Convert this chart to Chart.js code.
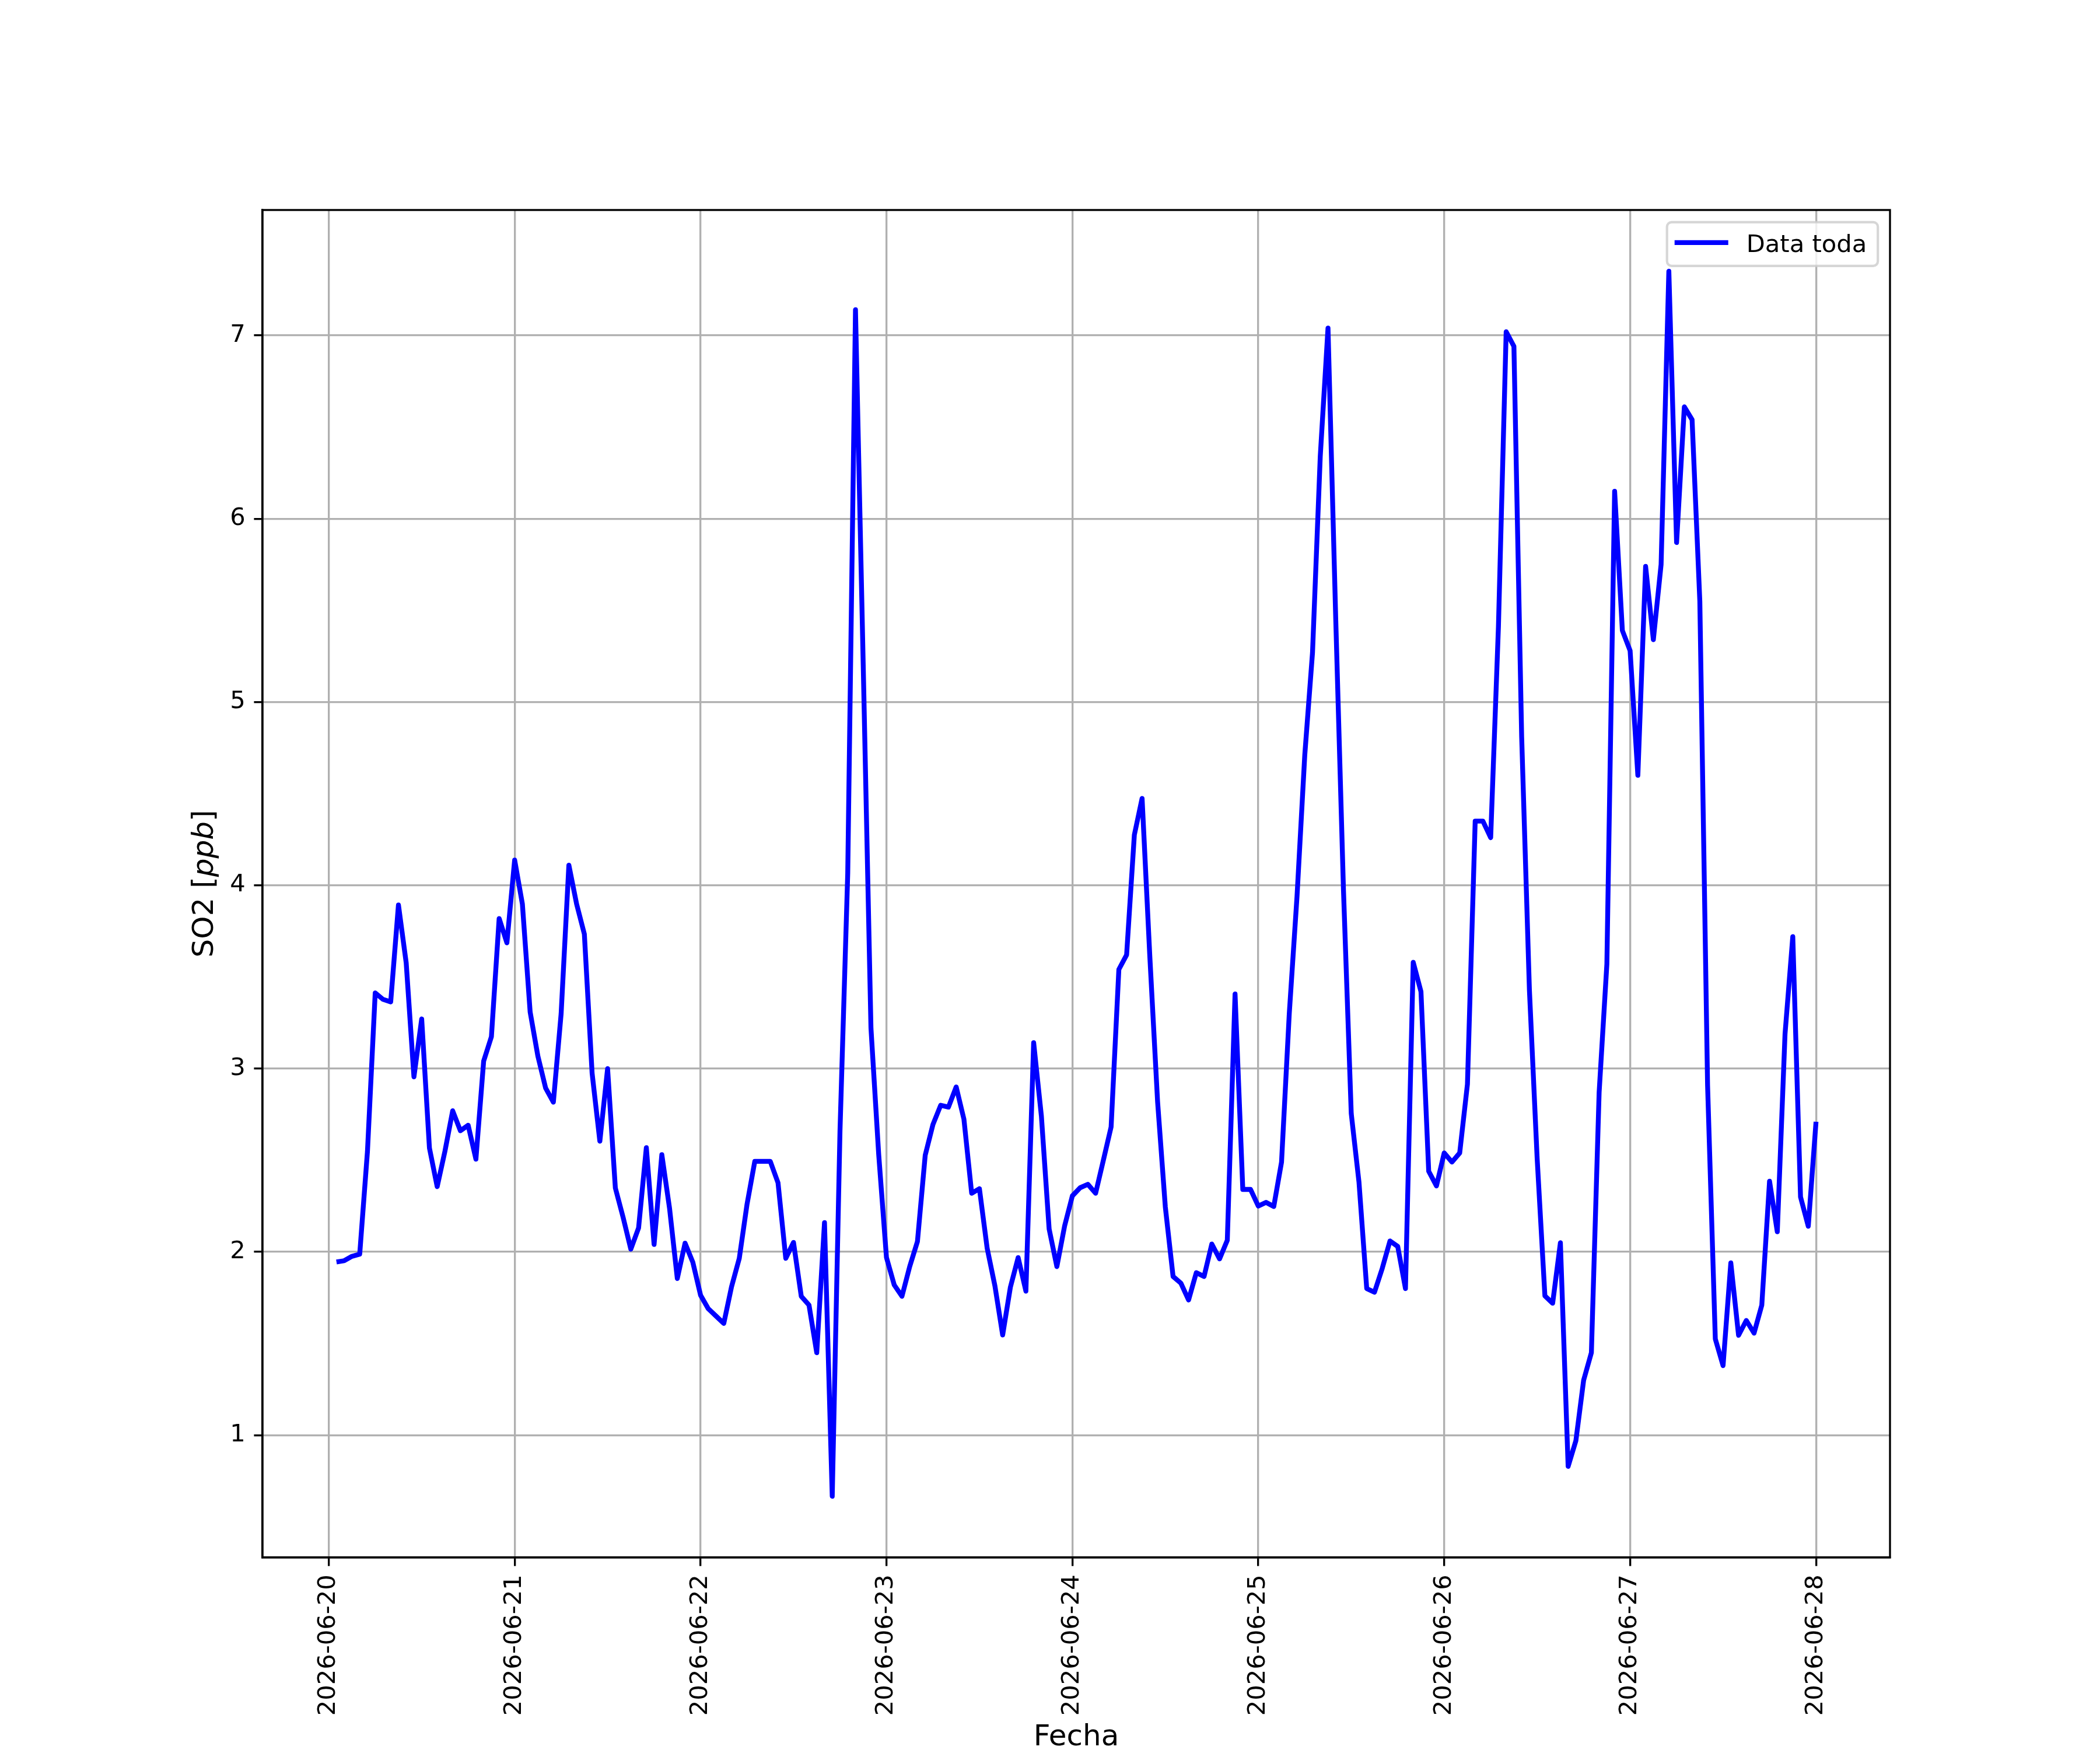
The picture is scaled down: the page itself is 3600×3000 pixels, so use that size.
<!DOCTYPE html>
<html>
<head>
<meta charset="utf-8">
<script src="https://cdn.jsdelivr.net/npm/chart.js@4.4.1/dist/chart.umd.min.js"></script>
<style>
html,body{margin:0;padding:0;background:#ffffff;}
canvas{display:block;}
</style>
</head>
<body>
<canvas id="c" width="3600" height="3000" style="width:3600px;height:3000px"></canvas>
<script>
// ---------------- data ----------------
const startDate = '2026-06-20';
const firstHour = 1;          // first hourly sample at 2026-06-20 01:00
const seriesLabel = 'Data toda';
const xAxisTitle = 'Fecha';
const yAxisTitleParts = [['SO2 [', false], ['ppb', true], [']', false]];

// hourly SO2 [ppb], 2026-06-20 01:00 ... 2026-06-28 00:00
const so2Values = [
  1.945, 1.952, 1.976, 1.988, 2.549, 3.413, 3.378, 3.364, 3.893, 3.577, 2.955, 3.271,
  2.567, 2.356, 2.549, 2.770, 2.661, 2.691, 2.506, 3.041, 3.174, 3.819, 3.686, 4.138,
  3.898, 3.309, 3.068, 2.894, 2.817, 3.299, 4.110, 3.898, 3.734, 2.975, 2.604, 3.000,
  2.349, 2.189, 2.015, 2.131, 2.569, 2.041, 2.531, 2.237, 1.855, 2.048, 1.944, 1.764,
  1.690, 1.650, 1.610, 1.810, 1.965, 2.260, 2.494, 2.494, 2.494, 2.377, 1.965, 2.052,
  1.758, 1.710, 1.450, 2.160, 0.667, 2.660, 4.065, 7.140, 5.200, 3.220, 2.530, 1.970,
  1.820, 1.758, 1.920, 2.057, 2.527, 2.695, 2.800, 2.790, 2.900, 2.724, 2.320, 2.345,
  2.020, 1.815, 1.547, 1.808, 1.969, 1.786, 3.142, 2.741, 2.125, 1.920, 2.142, 2.306,
  2.350, 2.369, 2.320, 2.500, 2.682, 3.541, 3.620, 4.275, 4.474, 3.610, 2.820, 2.245,
  1.866, 1.830, 1.738, 1.887, 1.866, 2.043, 1.962, 2.064, 3.407, 2.341, 2.341, 2.250,
  2.270, 2.248, 2.490, 3.300, 3.940, 4.710, 5.270, 6.340, 7.040, 5.450, 3.970, 2.755,
  2.380, 1.800, 1.780, 1.910, 2.060, 2.030, 1.800, 3.580, 3.420, 2.440, 2.360, 2.540,
  2.490, 2.540, 2.915, 4.350, 4.350, 4.260, 5.410, 7.020, 6.940, 4.810, 3.430, 2.510,
  1.760, 1.720, 2.050, 0.830, 0.970, 1.300, 1.450, 2.870, 3.570, 6.150, 5.390, 5.280,
  4.600, 5.740, 5.340, 5.750, 7.350, 5.870, 6.610, 6.540, 5.550, 2.910, 1.525, 1.380,
  1.940, 1.545, 1.626, 1.557, 1.710, 2.386, 2.110, 3.190, 3.720, 2.300, 2.140, 2.710
];

// x tick positions (hours since 2026-06-20 00:00) and their labels
const xTickHours = [0, 24, 48, 72, 96, 120, 144, 168, 192];
const xTickLabels = ['2026-06-20', '2026-06-21', '2026-06-22', '2026-06-23', '2026-06-24',
                     '2026-06-25', '2026-06-26', '2026-06-27', '2026-06-28'];
const yTickValues = [1, 2, 3, 4, 5, 6, 7];

// axis limits (matplotlib default 5% margins)
const xLimits = [-8.55, 201.55];
const yLimits = [0.333, 7.684];

// ---------------- styling ----------------
const FS = 41.67;    // 10pt at 300 dpi
const FS_LABEL = 50; // 12pt at 300 dpi
const FAMILY = "'DejaVu Sans', 'Liberation Sans', sans-serif";
const tickFont = { family: FAMILY, size: FS };
const LW = 3.33;     // 0.8pt at 300 dpi
const TICK = 14.6;   // 3.5pt

const points = so2Values.map((v, i) => ({ x: firstHour + i, y: v }));

const framePlugin = {
  id: 'frame',
  afterDatasetsDraw(chart) {
    const a = chart.chartArea, ctx = chart.ctx;
    ctx.save();
    ctx.strokeStyle = '#000000';
    ctx.lineWidth = LW;
    ctx.lineJoin = 'miter';
    ctx.strokeRect(a.left, a.top, a.right - a.left, a.bottom - a.top);
    ctx.restore();
  }
};

const yTitlePlugin = {
  id: 'yTitle',
  afterDraw(chart) {
    const a = chart.chartArea, ctx = chart.ctx;
    ctx.save();
    const fonts = yAxisTitleParts.map(p => (p[1] ? 'italic ' : '') + FS_LABEL + 'px ' + FAMILY);
    let total = 0;
    const widths = yAxisTitleParts.map((p, i) => { ctx.font = fonts[i]; const w = ctx.measureText(p[0]).width; total += w; return w; });
    ctx.translate(365, (a.top + a.bottom) / 2);
    ctx.rotate(-Math.PI / 2);
    ctx.fillStyle = '#000000';
    ctx.textBaseline = 'alphabetic';
    ctx.textAlign = 'left';
    let x = -total / 2;
    yAxisTitleParts.forEach((p, i) => { ctx.font = fonts[i]; ctx.fillText(p[0], x, 0); x += widths[i]; });
    ctx.restore();
  }
};

const legendPlugin = {
  id: 'mplLegend',
  afterDraw(chart) {
    const a = chart.chartArea, ctx = chart.ctx, ds = chart.data.datasets[0];
    ctx.save();
    ctx.font = FS + 'px ' + FAMILY;
    const tw = ctx.measureText(ds.label).width;
    const w = 136 + tw + 19, h = 75, pad = 20.8;
    const right = a.right - pad, top = a.top + pad, left = right - w;
    ctx.beginPath();
    ctx.roundRect(left, top, w, h, 8);
    ctx.fillStyle = 'rgba(255,255,255,0.8)';
    ctx.fill();
    ctx.strokeStyle = 'rgba(204,204,204,0.8)';
    ctx.lineWidth = 4.17;
    ctx.stroke();
    ctx.beginPath();
    ctx.moveTo(left + 13, top + 35);
    ctx.lineTo(left + 105, top + 35);
    ctx.strokeStyle = ds.borderColor;
    ctx.lineWidth = ds.borderWidth;
    ctx.lineCap = 'butt';
    ctx.stroke();
    ctx.fillStyle = '#000000';
    ctx.textBaseline = 'alphabetic';
    ctx.textAlign = 'left';
    ctx.fillText(ds.label, left + 136, top + 51);
    ctx.restore();
  }
};

const ctx = document.getElementById('c').getContext('2d');
new Chart(ctx, {
  type: 'line',
  data: {
    datasets: [{
      label: seriesLabel,
      data: points,
      borderColor: '#0000ff',
      backgroundColor: '#0000ff',
      borderWidth: 8.33,
      pointRadius: 0,
      pointHoverRadius: 0,
      tension: 0,
      fill: false,
      borderJoinStyle: 'round',
      borderCapStyle: 'butt'
    }]
  },
  options: {
    responsive: false,
    animation: false,
    devicePixelRatio: 1,
    events: [],
    layout: { padding: { left: 325, right: 360, top: 360, bottom: 0 } },
    plugins: { legend: { display: false }, tooltip: { enabled: false }, title: { display: false } },
    scales: {
      x: {
        type: 'linear',
        min: xLimits[0],
        max: xLimits[1],
        afterBuildTicks: (s) => { s.ticks = xTickHours.map(v => ({ value: v })); },
        afterFit: (s) => { s.height = 330; },
        ticks: {
          autoSkip: false,
          maxRotation: 90,
          minRotation: 90,
          padding: TICK,
          font: tickFont,
          color: '#000000',
          callback: (v, i) => xTickLabels[i]
        },
        grid: { color: '#b0b0b0', lineWidth: LW, tickColor: '#000000', tickWidth: LW, tickLength: TICK, drawTicks: true },
        border: { display: true, color: '#000000', width: LW },
        title: { display: true, text: xAxisTitle, color: '#000000', font: { family: FAMILY, size: FS_LABEL, lineHeight: 1 }, padding: { top: 0, bottom: -4 } }
      },
      y: {
        type: 'linear',
        min: yLimits[0],
        max: yLimits[1],
        afterBuildTicks: (s) => { s.ticks = yTickValues.map(v => ({ value: v })); },
        afterFit: (s) => { s.width = 125; },
        ticks: {
          padding: TICK,
          font: tickFont,
          color: '#000000',
          callback: (v) => String(v)
        },
        grid: { color: '#b0b0b0', lineWidth: LW, tickColor: '#000000', tickWidth: LW, tickLength: TICK, drawTicks: true },
        border: { display: true, color: '#000000', width: LW },
        title: { display: false }
      }
    }
  },
  plugins: [framePlugin, yTitlePlugin, legendPlugin]
});
</script>
</body>
</html>
